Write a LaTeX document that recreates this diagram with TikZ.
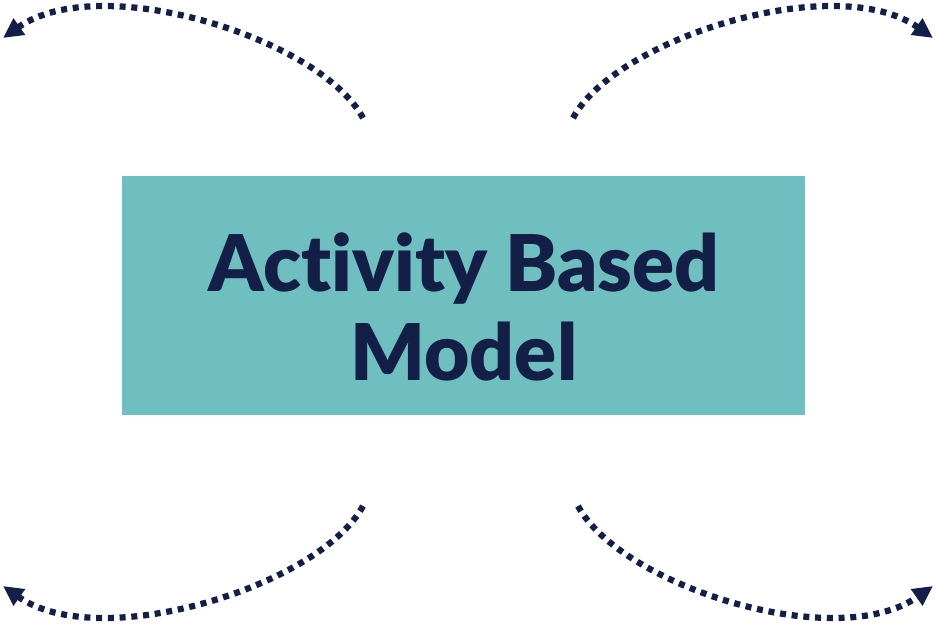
\documentclass[tikz,border=0pt]{standalone}
\usepackage{fontspec}
\setmainfont{Lato}[BoldFont={Lato Black}, Ligatures=NoCommon]
\usetikzlibrary{arrows.meta}

\definecolor{abmteal}{HTML}{6FBFC0}
\definecolor{abmnavy}{HTML}{141F48}

\tikzset{
  modelbox/.style={fill=abmteal, draw=none, minimum width=13.66cm,
    minimum height=4.78cm, inner sep=0pt},
  modeltext/.style={inner sep=0pt, align=center, text=abmnavy,
    font=\bfseries\fontsize{44.5}{51}\selectfont},
  loop/.style={abmnavy, line width=0.125cm, line cap=butt,
    dash pattern=on 0.12cm off 0.115cm,
    -{Triangle[length=0.4cm, width=0.38cm]}}
}

\begin{document}
\begin{tikzpicture}[x=0.02cm, y=-0.02cm]
    \useasboundingbox (0,0) rectangle (936,626);
    \node[modelbox] (abm) at (463.5,295.5) {};
    \node[modeltext] (abmtext) at (464,307) {Activity Based\\Model};

    % ends of the four dotted loops
    \coordinate (tlS) at (363,118);
    \coordinate (tlE) at (3,38);
    \coordinate (trS) at (573,118);
    \coordinate (trE) at (933,38);
    \coordinate (blS) at (363,506);
    \coordinate (blE) at (3,586);
    \coordinate (brS) at (578,506);
    \coordinate (brE) at (933,586);

    \draw[loop] (tlS) .. controls (320,38) and (100,-30) .. (tlE);
    \draw[loop] (trS) .. controls (616,38) and (836,-30) .. (trE);
    \draw[loop] (blS) .. controls (320,586) and (100,654) .. (blE);
    \draw[loop] (brS) .. controls (621,586) and (836,654) .. (brE);
\end{tikzpicture}
\end{document}
